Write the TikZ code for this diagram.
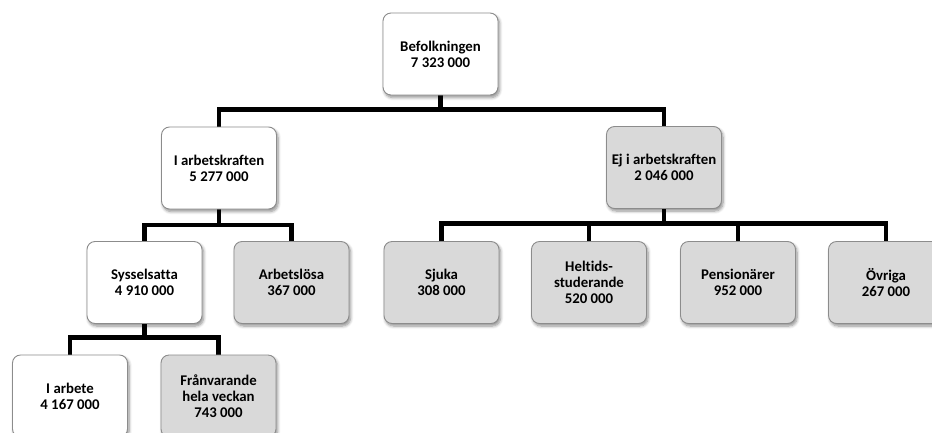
\documentclass[tikz,border=0pt]{standalone}
\usepackage{fontspec}
\setmainfont{Carlito}[Ligatures=NoCommon]
\usetikzlibrary{shadows.blur,backgrounds}
\definecolor{boxgray}{HTML}{D9D9D9}
\definecolor{boxline}{HTML}{8C8C8C}
\tikzset{
  orgbox/.style={draw=boxline, line width=0.9pt, rounded corners=8pt,
    minimum width=115pt, minimum height=82pt, align=center, fill=white,
    font=\fontsize{14.8}{16}\selectfont\bfseries, text=black,
    blur shadow={shadow xshift=1.5pt, shadow yshift=-2.5pt, shadow blur radius=3pt, shadow blur steps=6, shadow opacity=45}},
  graybox/.style={orgbox, fill=boxgray},
  conn/.style={line width=4.5pt, black, line join=miter}
}
\begin{document}
\begin{tikzpicture}[x=1pt,y=-1pt]
\useasboundingbox (0,0) rectangle (932,432);
\clip (0,0) rectangle (932,432);
\node[orgbox]  (befolk) at (440.5,54)   {Befolkningen\\7 323 000};
\node[orgbox]  (ikraft) at (219,168)    {I arbetskraften\\5 277 000};
\node[graybox] (ej)     at (664,167.5)  {Ej i arbetskraften\\2 046 000};
\node[orgbox]  (syss)   at (144.5,282.5) {Sysselsatta\\4 910 000};
\node[graybox] (arbl)   at (291.5,282.5) {Arbetslösa\\367 000};
\node[graybox] (sjuka)  at (441.5,282.5) {Sjuka\\308 000};
\node[graybox] (helt)   at (589,282.5)   {Heltids-\\studerande\\520 000};
\node[graybox] (pens)   at (738,282.5)   {Pensionärer\\952 000};
\node[graybox] (ovr)    at (886,282.5)   {Övriga\\267 000};
\node[orgbox]  (iarb)   at (70,396)      {I arbete\\4 167 000};
\node[graybox] (fran)   at (218.5,396)   {Frånvarande\\hela veckan\\743 000};
\coordinate (j1) at (440.5,109.5);
\coordinate (j2) at (219,225);
\coordinate (j3) at (664,223.5);
\coordinate (j4) at (144.5,337.5);
\begin{pgfonlayer}{background}
\draw[conn] (befolk.south) -- (j1);
\draw[conn] (ikraft.north) |- (j1) -| (ej.north);
\draw[conn] (ikraft.south) -- (j2);
\draw[conn] (syss.north) |- (j2) -| (arbl.north);
\draw[conn] (ej.south) -- (j3);
\draw[conn] (sjuka.north) |- (j3) -| (ovr.north);
\draw[conn] (helt.north) -- (helt.north |- j3);
\draw[conn] (pens.north) -- (pens.north |- j3);
\draw[conn] (syss.south) -- (j4);
\draw[conn] (iarb.north) |- (j4) -| (fran.north);
\end{pgfonlayer}
\end{tikzpicture}
\end{document}
